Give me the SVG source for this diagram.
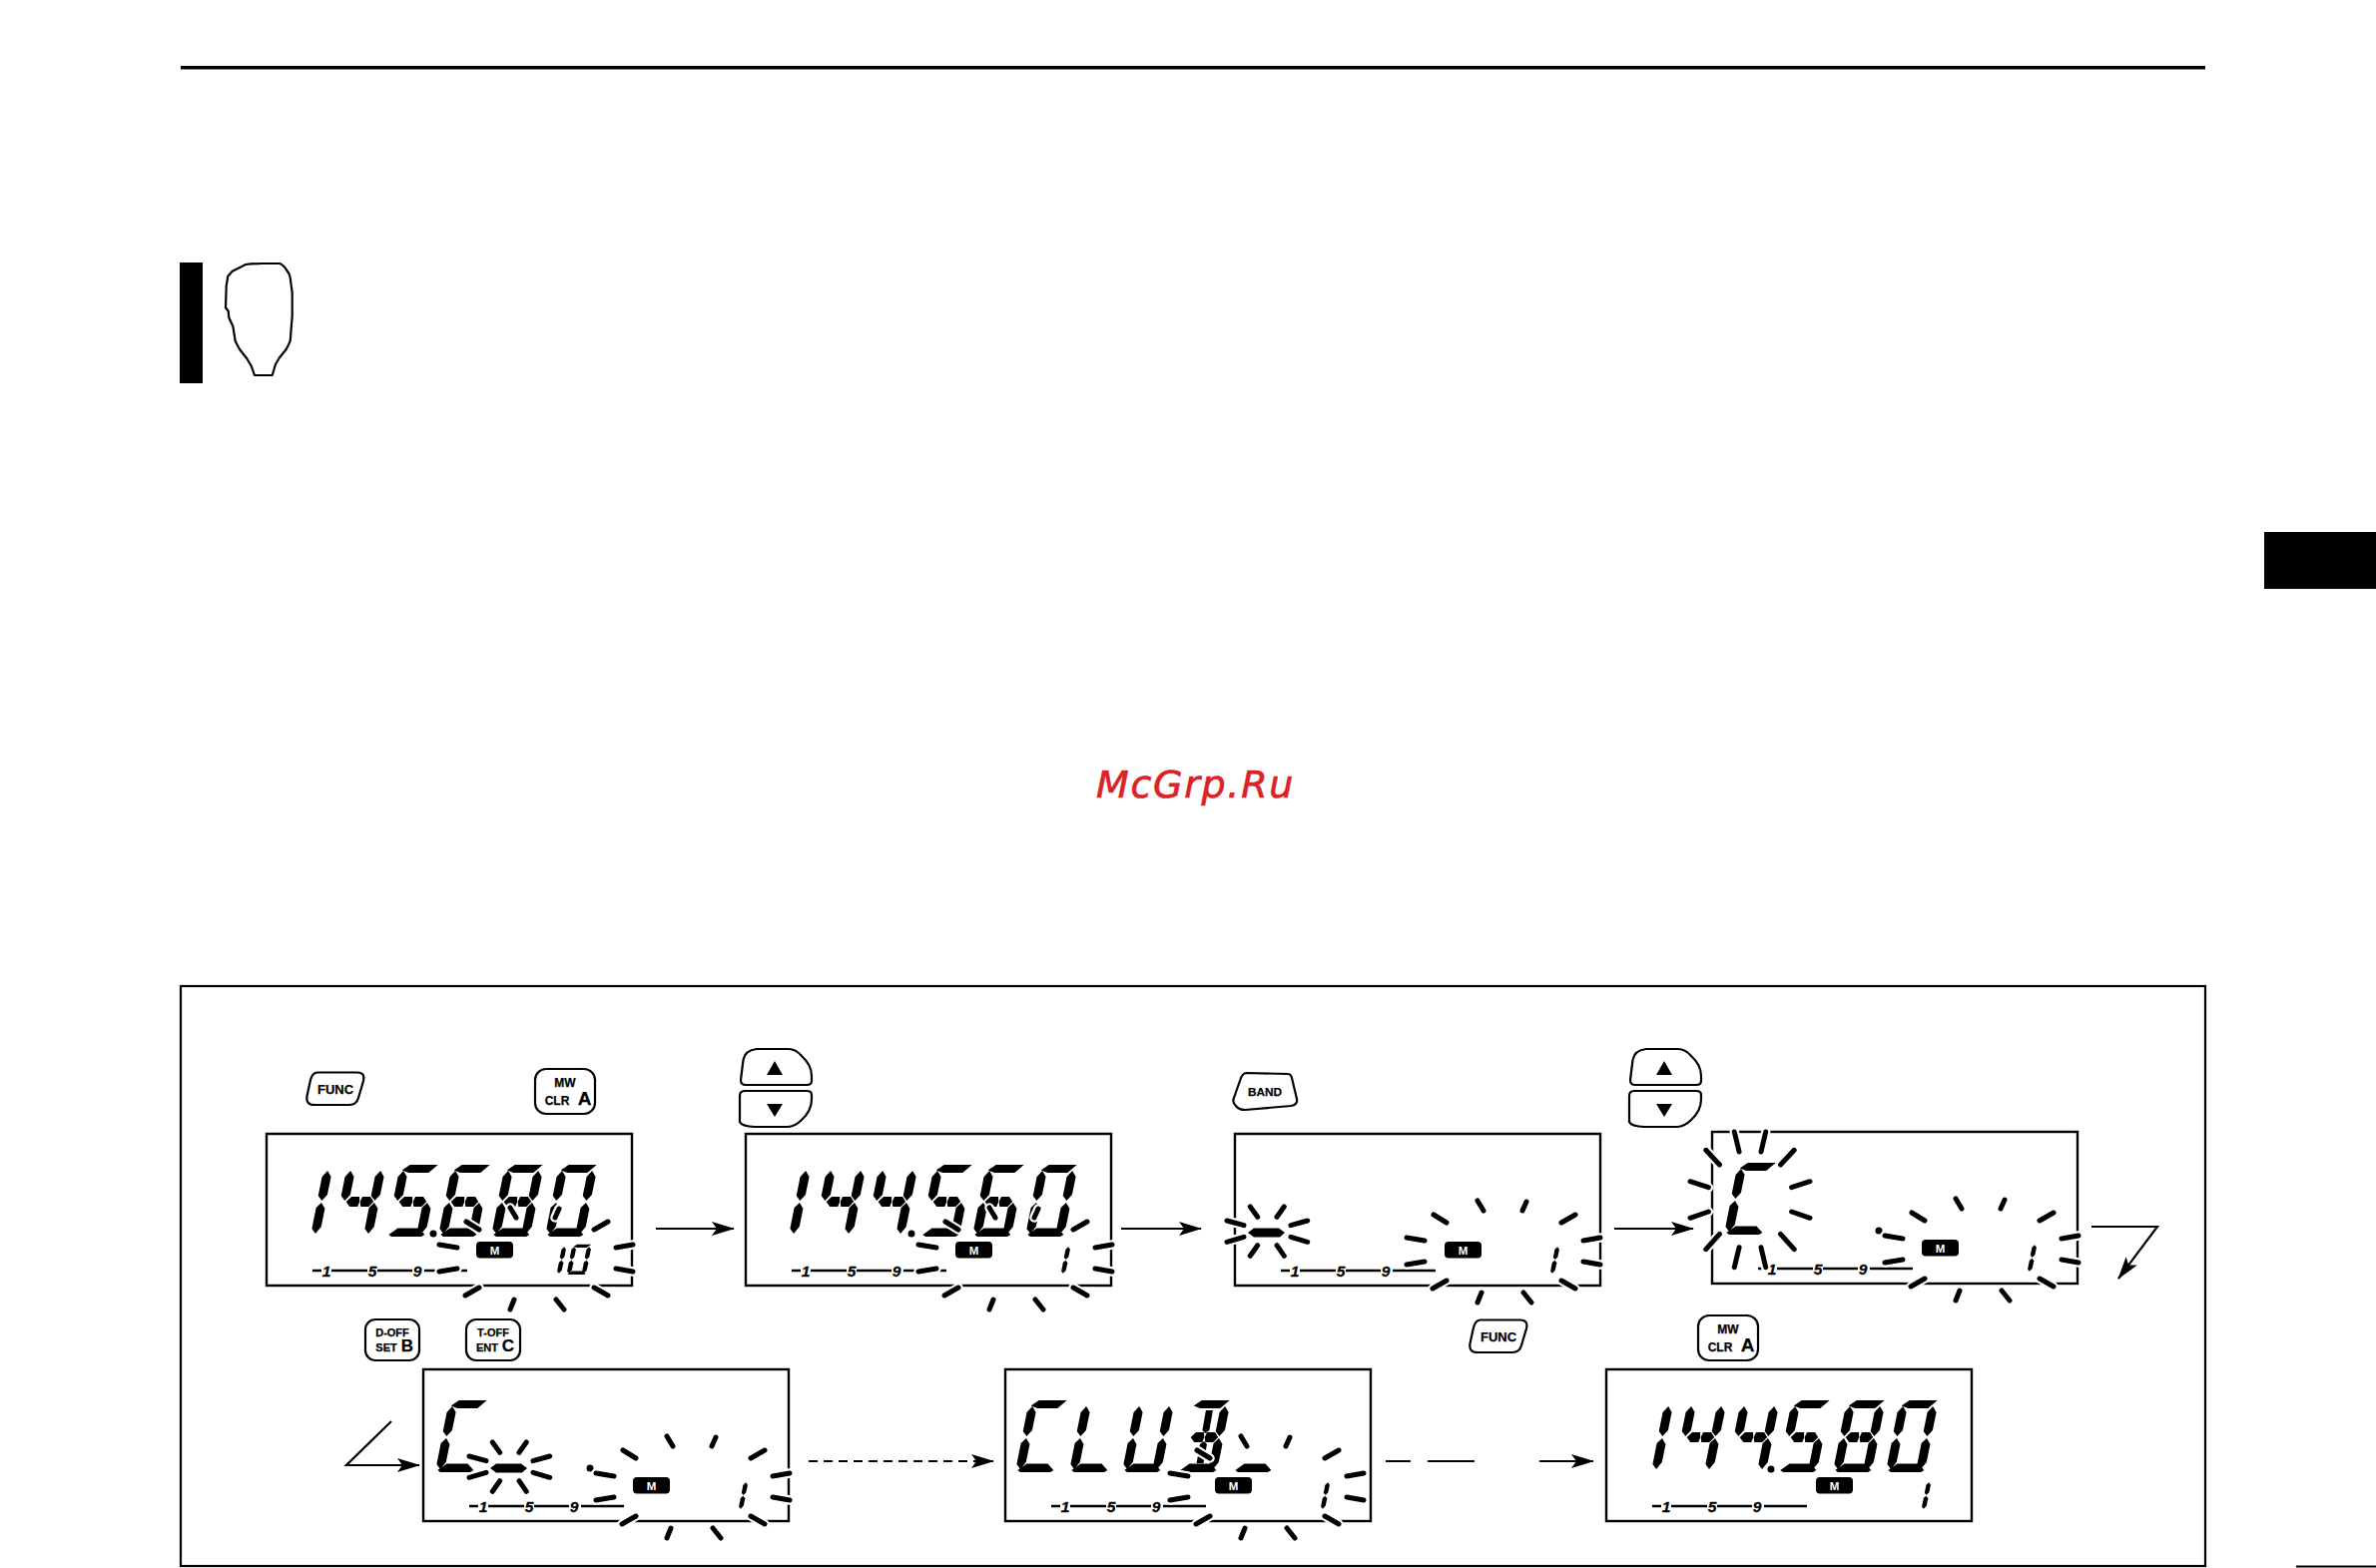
<svg xmlns="http://www.w3.org/2000/svg" width="2380" height="1571" viewBox="0 0 2380 1571">
<style>
.frame{fill:#fff;stroke:#000;stroke-width:2.4}
.halo{fill:none;stroke:#fff;stroke-width:9.500;stroke-linecap:round}
.ray{fill:none;stroke:#000;stroke-width:5;stroke-linecap:round}
.btn{fill:#fff;stroke:#000;stroke-width:2.200;stroke-linejoin:round}
.t{font-family:"Liberation Sans",Arial,sans-serif;font-weight:700;fill:#000;stroke:#000;stroke-width:.25;text-anchor:middle}
.sc{font-family:"Liberation Sans",Arial,sans-serif;font-weight:700;font-style:italic;font-size:15.500px;fill:#000;stroke:#000;stroke-width:.3;text-anchor:middle}
.m{font-family:"Liberation Sans",Arial,sans-serif;font-weight:700;font-size:11.500px;fill:#fff;text-anchor:middle}
.scl{stroke:#000;stroke-width:2.400;fill:none}
.cn{fill:none;stroke:#000;stroke-width:2.200}
.wm{font-family:"DejaVu Sans",sans-serif;font-style:oblique;font-size:38px;letter-spacing:1.7px;fill:#d92326;stroke:#d92326;stroke-width:.7}
</style>
<defs>
<marker id="ah" markerUnits="userSpaceOnUse" markerWidth="24" markerHeight="14" refX="22" refY="7" orient="auto"><path d="M0,0 L23,7 L0,14 L5,7Z" fill="#000"/></marker>
<polygon id="sa" points="3,-66.500 10,-72 38,-72 30,-64 10,-64"/>
<polygon id="sd" points="1,-2 9,-8.500 30,-8.500 37,-2 34,0 4,0"/>
<polygon id="sf" points="4.500,-66 9,-60 8.500,-42 4,-36 -0.500,-41 0,-60"/>
<polygon id="se" points="4,-34 8.500,-28 8,-10 3.500,-3 -1,-8 -0.500,-29"/>
<polygon id="sb" points="34.500,-66 39,-60 38.500,-42 34,-36 29.500,-41 30,-60"/>
<polygon id="sc" points="34,-34 38.500,-28 38,-10 33.500,-3 29,-8 29.500,-29"/>
<polygon id="sg1" points="5.500,-35 10,-40 18,-40 19,-35 18,-30 10,-30"/>
<polygon id="sg2" points="19.500,-35 21,-40 29,-40 33,-35 29,-30 21,-30"/>
<polygon id="sh" points="16,-62 23,-62 23,-42 19.500,-39 16,-42"/>
<polygon id="si" points="16,-28 19.500,-31 23,-28 23,-9 16,-9"/>
<g id="d1"><use href="#sb"/><use href="#sc"/></g>
<g id="d4"><use href="#sf"/><use href="#sg1"/><use href="#sg2"/><use href="#sb"/><use href="#sc"/></g>
<g id="d5"><use href="#sa"/><use href="#sf"/><use href="#sg1"/><use href="#sg2"/><use href="#sc"/><use href="#sd"/></g>
<g id="d6"><use href="#sa"/><use href="#sf"/><use href="#sg1"/><use href="#sg2"/><use href="#se"/><use href="#sc"/><use href="#sd"/></g>
<g id="d8"><use href="#sa"/><use href="#sf"/><use href="#sb"/><use href="#sg1"/><use href="#sg2"/><use href="#se"/><use href="#sc"/><use href="#sd"/></g>
<g id="d0"><use href="#sa"/><use href="#sf"/><use href="#sb"/><use href="#se"/><use href="#sc"/><use href="#sd"/></g>
<g id="dC"><use href="#sa"/><use href="#sf"/><use href="#se"/><use href="#sd"/></g>
<g id="dL"><use href="#sf"/><use href="#se"/><use href="#sd"/></g>
<g id="dU"><use href="#sf"/><use href="#se"/><use href="#sb"/><use href="#sc"/><use href="#sd"/></g>
<g id="dB"><use href="#sa"/><use href="#sb"/><use href="#sc"/><use href="#sd"/><use href="#sg1"/><use href="#sg2"/><use href="#sh"/><use href="#si"/></g>
<polygon id="minus" points="0,4 6,-0.500 31,-0.500 37,4 32,8.500 6,8.500"/>
<g id="scale">
<path class="scl" d="M46,137H55M65,137H101M111,137H146M158,137H201"/>
<text class="sc" x="60" y="142.500">1</text><text class="sc" x="106" y="142.500">5</text><text class="sc" x="151" y="142.500">9</text>
</g>
<g id="mbadge"><rect x="210" y="108" width="37" height="16.500" rx="4" fill="#000"/><text class="m" x="228.500" y="120.500">M</text></g>
<g id="rays12">
<path class="halo" d="M58,-29L72,-37M80,-11L97,-14M80,10L97,13M58,29L72,37M20,41L28,51M-22,41L-26,51M-57,29L-71,37M-97,-14L-79,-11M-97,13L-79,10M-70,-37L-57,-29M-26,-51L-20,-41M23,-50L19,-41"/>
<path class="ray" d="M58,-29L72,-37M80,-11L97,-14M80,10L97,13M58,29L72,37M20,41L28,51M-22,41L-26,51M-57,29L-71,37M-97,-14L-79,-11M-97,13L-79,10M-70,-37L-57,-29M-26,-51L-20,-41M23,-50L19,-41"/>
</g>
<g id="star8">
<path class="halo" d="M-39,-12L-22,-7.300M-39,9.300L-22,4.300M-15.700,-26L-8.300,-15.700M18.300,-26L11,-15.700M25,-7.300L41.700,-12M25,4.300L41.700,9.300M11,12.700L18.300,23.300M-8.300,12.700L-15.700,23.300"/>
<path class="ray" d="M-39,-12L-22,-7.300M-39,9.300L-22,4.300M-15.700,-26L-8.300,-15.700M18.300,-26L11,-15.700M25,-7.300L41.700,-12M25,4.300L41.700,9.300M11,12.700L18.300,23.300M-8.300,12.700L-15.700,23.300"/>
</g>
<g id="starC">
<path class="halo" d="M-15.700,-68L-10.900,-48M15.700,-68L11,-48M-30.500,-35L-44.200,-49.700M30.500,-35L44.200,-49.700M-41.600,-12.300L-60,-18.300M41.600,-12.300L60,-18.300M-41.600,12L-60,18.300M41.600,12L60,18.300M-30.500,34.300L-44.200,49.700M30.500,34.300L44.200,49.700M-10.900,47.700L-15.700,67.700M11,47.700L15.700,67.700"/>
<path class="ray" d="M-15.700,-68L-10.900,-48M15.700,-68L11,-48M-30.500,-35L-44.200,-49.700M30.500,-35L44.200,-49.700M-41.600,-12.300L-60,-18.300M41.600,-12.300L60,-18.300M-41.600,12L-60,18.300M41.600,12L60,18.300M-30.500,34.300L-44.200,49.700M30.500,34.300L44.200,49.700M-10.900,47.700L-15.700,67.700M11,47.700L15.700,67.700"/>
</g>
<path id="funcShape" class="btn" d="M318,1074.500H358Q366,1074.500 364,1083L359,1100Q357,1107 350,1107H315Q306,1107 307.500,1098L311,1082Q313,1074.500 318,1074.500Z"/>
<g id="arrows">
<path class="btn" d="M0,31 L2.500,11 Q4.500,1 16,0 H48 Q55,0 61,7 Q71,16 71,27 V32 Q71,36 66,36 H5 Q0,36 0,31Z"/>
<path d="M34,12 L42,26 H26Z" fill="#000"/>
<path class="btn" d="M-1,47 V73 Q1,77.500 14,78 H47 Q54,78 61,71 Q71,62 71,50 V46 Q71,42 66,42 H4 Q-1,42 -1,47Z"/>
<path d="M26,55 H42 L34,68Z" fill="#000"/>
</g>
<g id="mwClr">
<rect class="btn" x="536" y="1071" width="60" height="45" rx="11"/>
<text class="t" x="566" y="1089" font-size="12">MW</text>
<text class="t" x="558" y="1107" font-size="12">CLR</text>
<text class="t" x="585.500" y="1107" font-size="19">A</text>
</g>
</defs>
<rect width="2380" height="1571" fill="#fff"/>

<g id="page-marks">
<rect x="181" y="66" width="2028" height="3.500" fill="#000"/>
<rect x="180" y="263" width="23" height="121" fill="#000"/>
<rect x="2268" y="533" width="112" height="57" fill="#000"/>
<rect x="2300" y="1568.500" width="80" height="2" fill="#000"/>
<path fill="none" stroke="#000" stroke-width="2.200" stroke-linejoin="round" d="M246,265Q255,264 263.300,264H280Q283.500,265 286.700,270Q290,274 290.700,278.300L292.700,293.300V316.700L290.700,341.700Q289,346 286.700,350L280,358.300L276,365L272.700,376H255L251.700,366.700L247.300,359.300L240,350L235.700,341.700L233.300,326.700L229.300,318.300L228.700,311.700L226,308.300L226.700,286.700L228.300,276.700L232.700,271.700L241.700,267.300Z"/>
<rect x="181" y="988" width="2028" height="581" fill="none" stroke="#000" stroke-width="2.200"/>
<text class="wm" x="1098" y="799">McGrp.Ru</text>
</g>

<g id="connectors">
<line class="cn" x1="657" y1="1231" x2="735" y2="1231" marker-end="url(#ah)"/>
<line class="cn" x1="1123" y1="1231" x2="1203" y2="1231" marker-end="url(#ah)"/>
<line class="cn" x1="1617" y1="1231" x2="1696" y2="1231" marker-end="url(#ah)"/>
<path class="cn" d="M2095,1229H2161L2122,1281" marker-end="url(#ah)"/>
<path class="cn" d="M392,1424L347,1468H420" marker-end="url(#ah)"/>
<line class="cn" x1="810" y1="1464" x2="995" y2="1464" stroke-dasharray="9 6" marker-end="url(#ah)"/>
<path class="cn" d="M1388,1464H1413M1430,1464H1477"/>
<line class="cn" x1="1542" y1="1464" x2="1596" y2="1464" marker-end="url(#ah)"/>
</g>

<g id="btn-func-1"><use href="#funcShape"/><text class="t" x="336" y="1095.500" font-size="13">FUNC</text></g>
<g id="btn-mw-1"><use href="#mwClr"/></g>
<g id="btn-updown-1"><use href="#arrows" transform="translate(742,1051)"/></g>
<g id="btn-band">
<path class="btn" d="M1249,1075L1290,1076Q1293,1076 1294,1080L1299,1101Q1300,1107 1293,1108L1247,1112Q1241,1112 1238,1108Q1234,1104 1236,1100L1243,1080Q1245,1075 1249,1075Z"/>
<text class="t" x="1267" y="1098" font-size="11.800">BAND</text>
</g>
<g id="btn-updown-2"><use href="#arrows" transform="translate(1633,1051)"/></g>
<g id="btn-doff">
<rect class="btn" x="366" y="1322" width="54" height="41" rx="10"/>
<text class="t" x="393" y="1339" font-size="11">D-OFF</text>
<text class="t" x="387" y="1354" font-size="11">SET</text>
<text class="t" x="408" y="1354" font-size="17">B</text>
</g>
<g id="btn-toff">
<rect class="btn" x="467" y="1322" width="54" height="41" rx="10"/>
<text class="t" x="494" y="1339" font-size="11">T-OFF</text>
<text class="t" x="488" y="1354" font-size="11">ENT</text>
<text class="t" x="509" y="1354" font-size="17">C</text>
</g>
<g id="btn-func-2" transform="translate(1165,248)"><use href="#funcShape"/><text class="t" x="336" y="1095.500" font-size="13">FUNC</text></g>
<g id="btn-mw-2" transform="translate(1165,247)"><use href="#mwClr"/></g>

<g id="lcd-1" transform="translate(267,1136)">
<rect class="frame" width="366" height="152"/>
<use href="#scale"/><use href="#mbadge"/>
<g transform="translate(15,103) skewX(-10)"><use href="#d1"/></g>
<g transform="translate(68,103) skewX(-10)"><use href="#d4"/></g>
<g transform="translate(121,103) skewX(-10)"><use href="#d5"/></g>
<circle cx="167" cy="100" r="3.500"/>
<g transform="translate(173,103) skewX(-10)"><use href="#d6"/></g>
<g transform="translate(226,103) skewX(-10)"><use href="#d8"/></g>
<g transform="translate(280,103) skewX(-10)"><use href="#d0"/></g>
<g transform="translate(276,141) skewX(-10) scale(.5,.42)"><use href="#d1"/></g>
<g transform="translate(301,141) skewX(-10) scale(.5,.42)"><use href="#d0"/></g>
<use href="#rays12" x="270" y="125"/>
</g>

<g id="lcd-2" transform="translate(747,1136)">
<rect class="frame" width="366" height="152"/>
<use href="#scale"/><use href="#mbadge"/>
<g transform="translate(14,103) skewX(-10)"><use href="#d1"/></g>
<g transform="translate(69,103) skewX(-10)"><use href="#d4"/></g>
<g transform="translate(121,103) skewX(-10)"><use href="#d4"/></g>
<circle cx="166" cy="100" r="3.500"/>
<g transform="translate(176,103) skewX(-10)"><use href="#d5"/></g>
<g transform="translate(228,103) skewX(-10)"><use href="#d6"/></g>
<g transform="translate(281,103) skewX(-10)"><use href="#d0"/></g>
<g transform="translate(301,141) skewX(-10) scale(.5,.42)"><use href="#d1"/></g>
<use href="#rays12" x="270" y="125"/>
</g>

<g id="lcd-3" transform="translate(1237,1136)">
<rect class="frame" width="366" height="152"/>
<use href="#scale"/><use href="#mbadge"/>
<use href="#minus" x="13" y="95"/>
<use href="#star8" x="31" y="99"/>
<g transform="translate(301,141) skewX(-10) scale(.5,.42)"><use href="#d1"/></g>
<use href="#rays12" x="269" y="118"/>
</g>

<g id="lcd-4" transform="translate(1715,1134)">
<rect class="frame" width="366" height="152"/>
<use href="#scale"/><use href="#mbadge"/>
<g transform="translate(13,103) skewX(-10)"><use href="#dC"/></g>
<circle cx="167" cy="99" r="3.500"/>
<use href="#starC" x="38" y="68"/>
<g transform="translate(301,141) skewX(-10) scale(.5,.42)"><use href="#d1"/></g>
<use href="#rays12" x="270" y="118"/>
</g>

<g id="lcd-5" transform="translate(424,1372)">
<rect class="frame" width="366" height="152"/>
<use href="#scale"/><use href="#mbadge"/>
<g transform="translate(13,103) skewX(-10)"><use href="#dC"/></g>
<circle cx="167" cy="99" r="3.500"/>
<use href="#minus" x="67" y="95"/>
<use href="#star8" x="85" y="99"/>
<g transform="translate(301,141) skewX(-10) scale(.5,.42)"><use href="#d1"/></g>
<use href="#rays12" x="270" y="118"/>
</g>

<g id="lcd-6" transform="translate(1007,1372)">
<rect class="frame" width="366" height="152"/>
<use href="#scale"/><use href="#mbadge"/>
<g transform="translate(11,103) skewX(-10)"><use href="#dC"/></g>
<g transform="translate(65,103) skewX(-10)"><use href="#dL"/></g>
<g transform="translate(118,103) skewX(-10)"><use href="#dU"/></g>
<g transform="translate(174,103) skewX(-10)"><use href="#dB"/></g>
<g transform="translate(229,103) skewX(-10)"><use href="#sd"/></g>
<g transform="translate(301,141) skewX(-10) scale(.5,.42)"><use href="#d1"/></g>
<use href="#rays12" x="262" y="118"/>
</g>

<g id="lcd-7" transform="translate(1609,1372)">
<rect class="frame" width="366" height="152"/>
<use href="#scale"/><use href="#mbadge"/>
<g transform="translate(16,103) skewX(-10)"><use href="#d1"/></g>
<g transform="translate(69,103) skewX(-10)"><use href="#d4"/></g>
<g transform="translate(122,103) skewX(-10)"><use href="#d4"/></g>
<circle cx="165" cy="100" r="3.500"/>
<g transform="translate(173,103) skewX(-10)"><use href="#d5"/></g>
<g transform="translate(228,103) skewX(-10)"><use href="#d8"/></g>
<g transform="translate(281,103) skewX(-10)"><use href="#d0"/></g>
<g transform="translate(301,141) skewX(-10) scale(.5,.42)"><use href="#d1"/></g>
</g>
</svg>
